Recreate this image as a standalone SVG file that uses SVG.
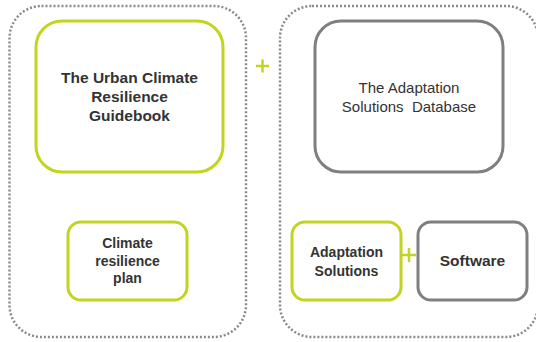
<svg xmlns="http://www.w3.org/2000/svg" width="536" height="342" viewBox="0 0 536 342">
<style>
.cont{fill:none;stroke:#8a8a8a;stroke-width:2.5;stroke-dasharray:2 2}
.g{fill:#fff;stroke:#c2d41f;stroke-width:3}
.k{fill:#fff;stroke:#7f7f7f;stroke-width:3}
.t{font-family:"Liberation Sans",Arial,sans-serif;fill:#333;text-anchor:middle}
.b{font-weight:bold}
.plus{stroke:#c2d41f;stroke-width:2.5;fill:none}
</style>
<rect width="536" height="342" fill="#fff"/>
<g id="left-container"><rect class="cont" x="9.5" y="6" width="236.5" height="331" rx="32"/></g>
<g id="right-container"><rect class="cont" x="280" y="6" width="258" height="331" rx="32"/></g>
<g id="guidebook">
<rect class="g" x="36" y="21" width="187" height="151" rx="26"/>
<text class="t b" font-size="15.5"><tspan x="129.5" y="83">The Urban Climate</tspan><tspan x="129.5" y="102">Resilience</tspan><tspan x="129.5" y="120.5">Guidebook</tspan></text>
</g>
<g id="database">
<rect class="k" x="315" y="21" width="188" height="151" rx="26"/>
<text class="t" font-size="15"><tspan x="409" y="93">The Adaptation</tspan><tspan x="409" y="112">Solutions&#160; Database</tspan></text>
</g>
<g id="plan">
<rect class="g" x="68" y="222" width="119" height="78" rx="13"/>
<text class="t b" font-size="14"><tspan x="127.5" y="248">Climate</tspan><tspan x="127.5" y="266">resilience</tspan><tspan x="127.5" y="283">plan</tspan></text>
</g>
<g id="adaptation-solutions">
<rect class="g" x="292" y="222" width="109" height="78" rx="13"/>
<text class="t b" font-size="14"><tspan x="346.5" y="257">Adaptation</tspan><tspan x="346.5" y="276">Solutions</tspan></text>
</g>
<g id="software">
<rect class="k" x="418" y="222" width="109" height="78" rx="13"/>
<text class="t b" font-size="15.5"><tspan x="472.5" y="266">Software</tspan></text>
</g>
<g id="connectors">
<path class="plus" d="M256 66h13M262.5 59.5v13"/>
<path class="plus" d="M402 255h14M409 248v14"/>
</g>
</svg>
